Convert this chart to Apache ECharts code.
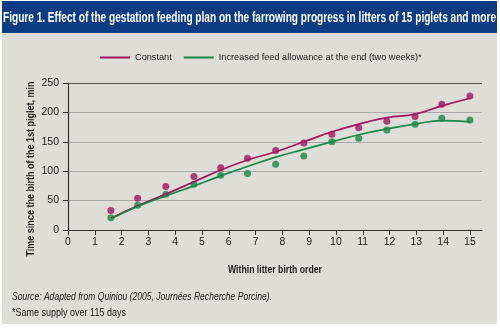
<!DOCTYPE html>
<html><head><meta charset="utf-8">
<script src="https://cdn.jsdelivr.net/npm/echarts@6/dist/echarts.min.js"></script>
<style>html,body{margin:0;padding:0;background:#fff;}#c{width:500px;height:328px;}</style>
</head><body><div id="c"></div>
<script>
const FONT = "'Liberation Sans', Arial, sans-serif";
const titleText = "Figure 1. Effect of the gestation feeding plan on the farrowing progress in litters of 15 piglets and more";
const seriesNames = ["Constant", "Increased feed allowance at the end (two weeks)*"];
const xTicks = [0,1,2,3,4,5,6,7,8,9,10,11,12,13,14,15];
const pointX = [1.6,2.6,3.65,4.7,5.7,6.7,7.75,8.8,9.85,10.85,11.9,12.95,13.95,15.0];
const constantPts = [33,54,74,91,106,122,135,148,163,174,185,193,214,228];
const increasedPts = [21,42,61,78,93,96,112,126,150,156,170,180,190,187];
const constantFit = [20,41,61,82,102,119,133,150,167,180,191,197,211,224];
const increasedFit = [19,40,58,75,92,108,124,137,150,162,172,180,186,184];
const xName = "Within litter birth order";
const yName = "Time since the birth of the 1st piglet, min";
const source1 = "Source: Adapted from Quiniou (2005, Journées Recherche Porcine).";
const source2 = "*Same supply over 115 days";
const PINK = '#a3155d', GREEN = '#17884a';

const ctx = document.createElement('canvas').getContext('2d');
function fit(text, font, w) { ctx.font = font; return w / ctx.measureText(text).width; }

const fTitle = "bold 14px " + FONT;
const fName = "bold 11px " + FONT;
const fSrc1 = "italic 11px " + FONT;
const fSrc2 = "11px " + FONT;

const zip = (xs, ys) => xs.map((x,i)=>[x, ys[i]]);
const chart = echarts.init(document.getElementById('c'), null, {renderer:'canvas'});
chart.setOption({
  backgroundColor: '#fff',
  animation: false,
  textStyle: {fontFamily: FONT},
  graphic: [
    {type:'rect', z:-10, shape:{x:2,y:33,width:495,height:291}, style:{fill:'#dfddd8'}},
    {type:'rect', z:-10, shape:{x:2,y:1,width:495,height:32}, style:{fill:'#0b3b82'}},
    {type:'text', x:3, y:18, scaleX: fit(titleText, fTitle, 493),
     style:{text:titleText, fill:'#fff', font:fTitle, textAlign:'left', textVerticalAlign:'middle'}},
    {type:'text', x:31, y:169, rotation: Math.PI/2, scaleX: fit(yName, fName, 175),
     style:{text:yName, fill:'#222', font:fName, textAlign:'center', textVerticalAlign:'middle'}},
    {type:'text', x:275, y:270, scaleX: fit(xName, fName, 94),
     style:{text:xName, fill:'#222', font:fName, textAlign:'center', textVerticalAlign:'middle'}},
    {type:'text', x:12, y:297, scaleX: fit(source1, fSrc1, 260),
     style:{text:source1, fill:'#222', font:fSrc1, textAlign:'left', textVerticalAlign:'middle'}},
    {type:'text', x:12, y:313, scaleX: fit(source2, fSrc2, 114),
     style:{text:source2, fill:'#222', font:fSrc2, textAlign:'left', textVerticalAlign:'middle'}}
  ],
  legend: {
    top: 48, left: 95, itemWidth: 30, itemHeight: 2, itemGap: 12,
    icon: 'rect',
    textStyle: {fontFamily: FONT, fontSize: 9.2, color: '#222'},
    data: seriesNames
  },
  grid: {left: 68, right: 18, top: 83, bottom: 98, containLabel: false},
  xAxis: {
    type: 'value', min: 0, max: 15.45, interval: 1,
    axisLine: {lineStyle: {color: '#333', width: 1.2}},
    axisTick: {show: true, length: 5, inside: false, lineStyle: {color:'#333'}, customValues: xTicks},
    axisLabel: {color: '#222', fontSize: 10.5, fontFamily: FONT, margin: 7, customValues: xTicks},
    splitLine: {show: false}
  },
  yAxis: {
    type: 'value', min: 0, max: 250, interval: 50,
    axisLine: {show: true, lineStyle: {color: '#333', width: 1.2}},
    axisTick: {show: true, length: 5, lineStyle: {color:'#333'}},
    axisLabel: {color: '#222', fontSize: 10.5, fontFamily: FONT, margin: 9},
    splitLine: {show: true, lineStyle: {color: ['#aaa','#a9a9a9','#a9a9a9','#a9a9a9','#a9a9a9','#555'], width: 1}}
  },
  series: [
    {name: seriesNames[0], type: 'line', smooth: true, showSymbol: false, data: zip(pointX, constantFit),
     lineStyle: {color: PINK, width: 1.7}, itemStyle: {color: PINK}},
    {name: seriesNames[1], type: 'line', smooth: true, showSymbol: false, data: zip(pointX, increasedFit),
     lineStyle: {color: GREEN, width: 1.7}, itemStyle: {color: GREEN}},
    {name: 'constantPts', type: 'scatter', symbolSize: 7, data: zip(pointX, constantPts), itemStyle: {color: PINK}},
    {name: 'increasedPts', type: 'scatter', symbolSize: 7, data: zip(pointX, increasedPts), itemStyle: {color: GREEN}}
  ]
});
</script></body></html>
